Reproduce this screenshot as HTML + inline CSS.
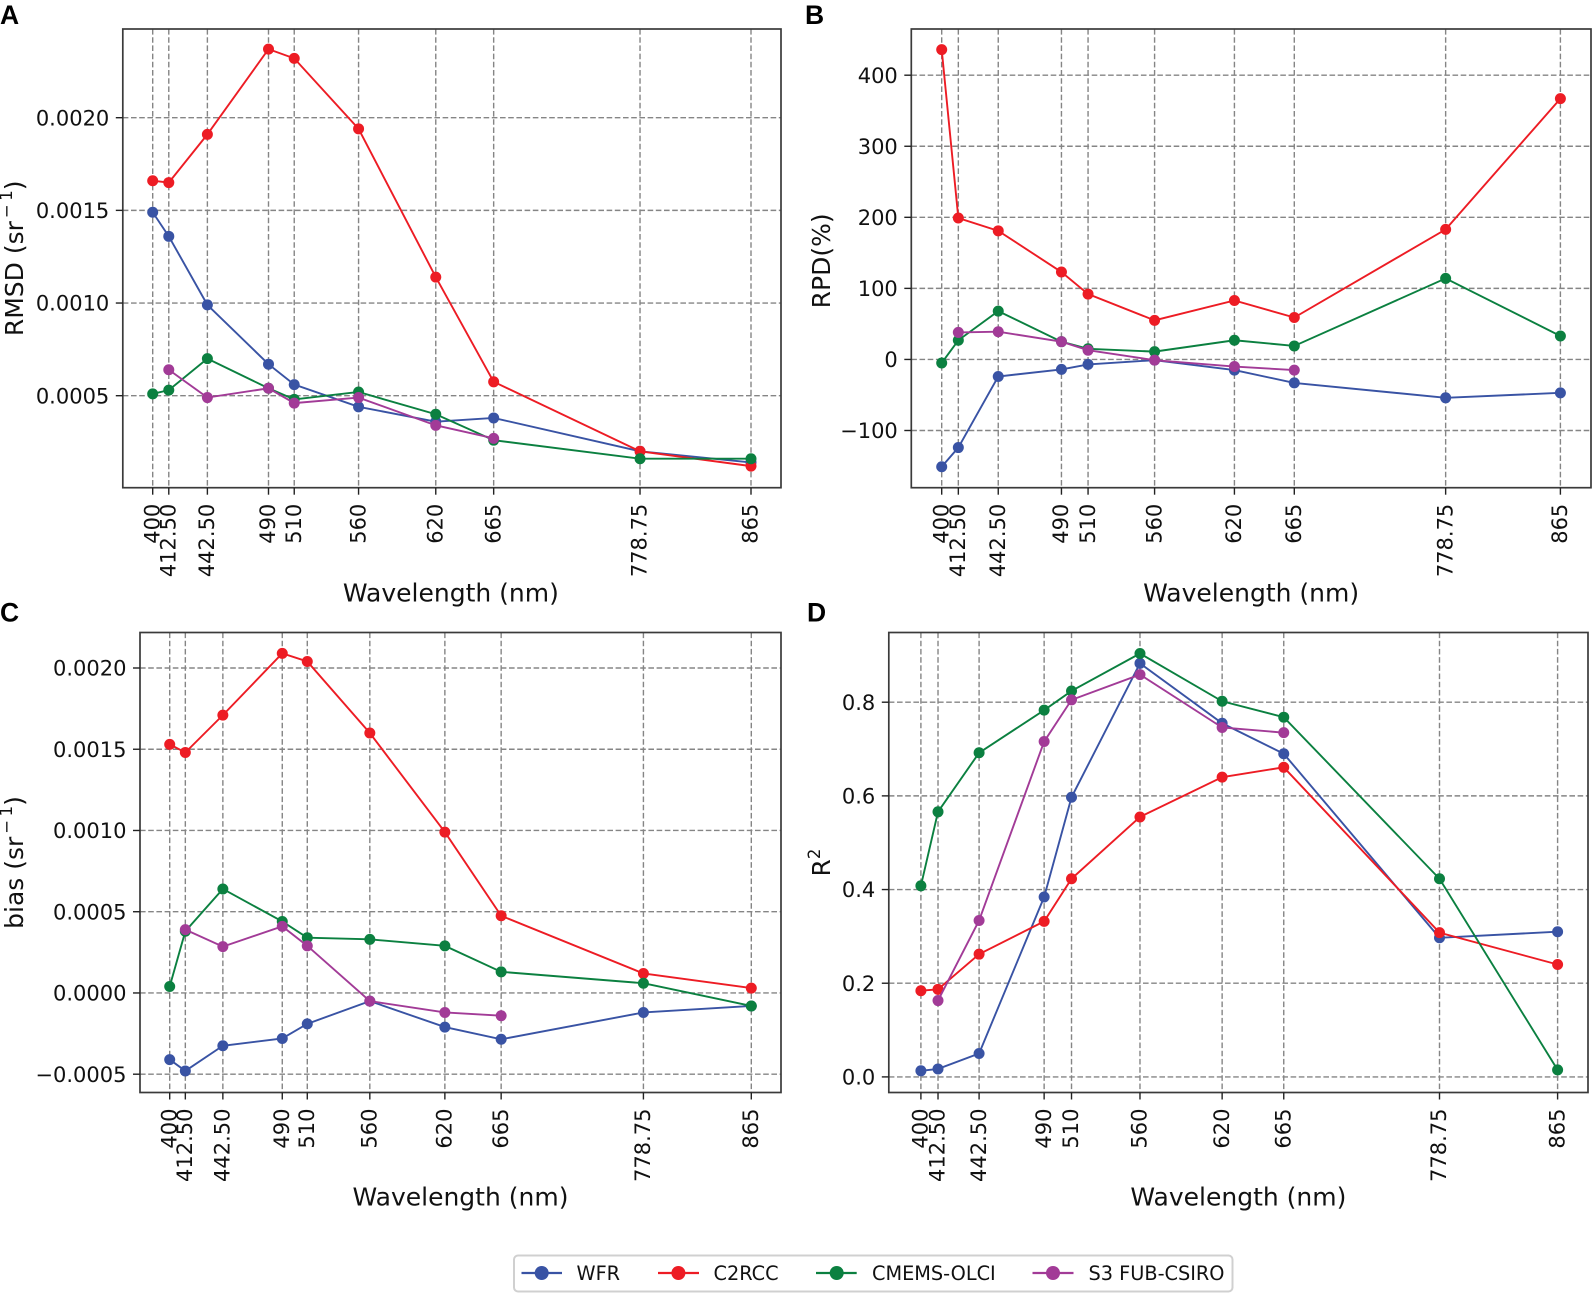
<!DOCTYPE html>
<html lang="en">
<head>
<meta charset="utf-8">
<title>Sentinel-3 atmospheric correction comparison</title>
<style>
html,body{margin:0;padding:0;background:#fff;width:1592px;height:1293px;overflow:hidden}
svg{display:block;font-family:"DejaVu Sans","Liberation Sans",sans-serif}
</style>
</head>
<body>
<svg id="fig" xmlns="http://www.w3.org/2000/svg" width="1592" height="1293" viewBox="0 0 1592 1293">
  <g>
    <rect x="514" y="1255.5" width="718.5" height="36" rx="4" fill="#fff" stroke="#d0d0d0" stroke-width="2"/>
    <g>
      <line x1="521.5" x2="562" y1="1273" y2="1273" stroke="#3953a4" stroke-width="2.2"/><circle cx="541.7" cy="1273" r="7" fill="#3953a4"/>
      <text x="576.5" y="1280" font-size="19.3" fill="#111">WFR</text>
    </g>
    <g>
      <line x1="658" x2="699" y1="1273" y2="1273" stroke="#ed1c24" stroke-width="2.2"/><circle cx="678.4" cy="1273" r="7" fill="#ed1c24"/>
      <text x="713.5" y="1280" font-size="19.3" fill="#111">C2RCC</text>
    </g>
    <g>
      <line x1="816" x2="856.7" y1="1273" y2="1273" stroke="#0b8040" stroke-width="2.2"/><circle cx="836.7" cy="1273" r="7" fill="#0b8040"/>
      <text x="872" y="1280" font-size="19.3" fill="#111">CMEMS-OLCI</text>
    </g>
    <g>
      <line x1="1032.5" x2="1073.5" y1="1273" y2="1273" stroke="#a23b97" stroke-width="2.2"/><circle cx="1053" cy="1273" r="7" fill="#a23b97"/>
      <text x="1088.5" y="1280" font-size="19.3" fill="#111">S3 FUB-CSIRO</text>
    </g>
  </g>
</svg>
<script>
// ---- shared categories ----
const wavelengths = [400, 412.5, 442.5, 490, 510, 560, 620, 665, 778.75, 865];
const wavelengthLabels = ['400', '412.50', '442.50', '490', '510', '560', '620', '665', '778.75', '865'];

// ---- panel A: RMSD ----
const rmsdTicks = [0.0005, 0.0010, 0.0015, 0.0020];
const rmsdTickLabels = ['0.0005', '0.0010', '0.0015', '0.0020'];
const rmsdWfr = [0.00149, 0.00136, 0.00099, 0.00067, 0.00056, 0.00044, 0.00036, 0.00038, 0.00020, 0.00014];
const rmsdC2rcc = [0.00166, 0.00165, 0.00191, 0.00237, 0.00232, 0.00194, 0.00114, 0.000575, 0.00020, 0.00012];
const rmsdCmems = [0.00051, 0.00053, 0.00070, 0.00054, 0.00048, 0.00052, 0.00040, 0.00026, 0.00016, 0.00016];
const rmsdS3 = [null, 0.00064, 0.00049, 0.00054, 0.00046, 0.00049, 0.00034, 0.00027, null, null];

// ---- panel B: RPD ----
const rpdTicks = [-100, 0, 100, 200, 300, 400];
const rpdTickLabels = ['\u2212100', '0', '100', '200', '300', '400'];
const rpdWfr = [-151, -124, -24, -14, -7, -1, -15, -33, -54, -47];
const rpdC2rcc = [436, 199, 181, 123, 92, 55, 83, 59, 183, 367];
const rpdCmems = [-5, 27, 68, 25, 15, 11, 27, 19, 114, 33];
const rpdS3 = [null, 38, 39, 25, 13, -1, -10, -15, null, null];

// ---- panel C: bias ----
const biasTicks = [-0.0005, 0, 0.0005, 0.0010, 0.0015, 0.0020];
const biasTickLabels = ['\u22120.0005', '0.0000', '0.0005', '0.0010', '0.0015', '0.0020'];
const biasWfr = [-0.00041, -0.00048, -0.000325, -0.00028, -0.00019, -0.00005, -0.00021, -0.000285, -0.00012, -0.00008];
const biasC2rcc = [0.00153, 0.00148, 0.00171, 0.00209, 0.00204, 0.00160, 0.00099, 0.000475, 0.00012, 0.00003];
const biasCmems = [0.00004, 0.00038, 0.00064, 0.00044, 0.00034, 0.00033, 0.00029, 0.00013, 0.00006, -0.00008];
const biasS3 = [null, 0.00039, 0.000285, 0.00041, 0.00029, -0.00005, -0.00012, -0.00014, null, null];

// ---- panel D: R2 ----
const r2Ticks = [0, 0.2, 0.4, 0.6, 0.8];
const r2TickLabels = ['0.0', '0.2', '0.4', '0.6', '0.8'];
const r2Wfr = [0.013, 0.017, 0.05, 0.384, 0.597, 0.883, 0.755, 0.69, 0.297, 0.31];
const r2C2rcc = [0.184, 0.187, 0.262, 0.332, 0.423, 0.555, 0.64, 0.661, 0.308, 0.24];
const r2Cmems = [0.408, 0.566, 0.692, 0.783, 0.824, 0.904, 0.802, 0.768, 0.423, 0.015];
const r2S3 = [null, 0.163, 0.334, 0.716, 0.805, 0.859, 0.746, 0.735, null, null];

const seriesNames = ['wfr', 'c2rcc', 'cmems-olci', 's3-fub-csiro'];
const seriesColors = ['#3953a4', '#ed1c24', '#0b8040', '#a23b97'];

const SVGNS = 'http://www.w3.org/2000/svg';
const fig = document.getElementById('fig');

function make(parent, tag, attrs) {
  const el = document.createElementNS(SVGNS, tag);
  for (const k in attrs) el.setAttribute(k, attrs[k]);
  parent.appendChild(el);
  return el;
}

function drawPanel(cfg) {
  const g = make(fig, 'g', {});
  
  

  const xScale = w => cfg.x400 + (w - 400) * (cfg.x865 - cfg.x400) / (865 - 400);
  const yScale = v => cfg.yA + (v - cfg.vA) * (cfg.yB - cfg.yA) / (cfg.vB - cfg.vA);

  // panel letter
  const letter = make(g, 'text', {x: cfg.letterX, y: cfg.letterY, 'font-size': 26.5, 'font-weight': 700, 'font-family': '"Liberation Sans",sans-serif', fill: '#000'});
  
  
  letter.textContent = cfg.letter;

  // grid
  const grid = make(g, 'g', {stroke: '#858585', 'stroke-width': 1.4, 'stroke-dasharray': '5.6 2.6', fill: 'none'});
  
  
  wavelengths.forEach(w => {
    make(grid, 'line', {x1: xScale(w), x2: xScale(w), y1: cfg.top, y2: cfg.bottom});
  });
  cfg.yTicks.forEach(v => {
    make(grid, 'line', {x1: cfg.left, x2: cfg.right, y1: yScale(v), y2: yScale(v)});
  });

  // series
  cfg.series.forEach((vals, i) => {
    const sg = make(g, 'g', {});
    
    
    const pts = [];
    vals.forEach((v, j) => { if (v !== null) pts.push([xScale(wavelengths[j]), yScale(v)]); });
    make(sg, 'polyline', {points: pts.map(p => p.join(',')).join(' '), fill: 'none', stroke: seriesColors[i], 'stroke-width': 1.9});
    pts.forEach(p => {
      const c = make(sg, 'circle', {cx: p[0], cy: p[1], r: 5.5, fill: seriesColors[i]});
      
      
    });
  });

  // frame
  const frame = make(g, 'rect', {x: cfg.left, y: cfg.top, width: cfg.right - cfg.left, height: cfg.bottom - cfg.top, fill: 'none', stroke: '#3a3a3a', 'stroke-width': 1.7});
  
  

  // x ticks
  const xAxis = make(g, 'g', {});
  
  
  wavelengths.forEach((w, i) => {
    const x = xScale(w);
    make(xAxis, 'line', {x1: x, x2: x, y1: cfg.bottom, y2: cfg.bottom + 7, stroke: '#222', 'stroke-width': 1.4});
    const t = make(xAxis, 'text', {transform: 'translate(' + (x + 6.7) + ',' + (cfg.bottom + 16) + ') rotate(-90)', 'text-anchor': 'end', 'font-size': 21, fill: '#111'});
    
    
    t.textContent = wavelengthLabels[i];
  });

  const xTitle = make(g, 'text', {x: (cfg.left + cfg.right) / 2 + cfg.xTitleShift, y: cfg.bottom + cfg.xTitleDrop, 'text-anchor': 'middle', 'font-size': 25, fill: '#111'});
  
  
  xTitle.textContent = 'Wavelength (nm)';

  // y ticks
  const yAxis = make(g, 'g', {});
  
  
  cfg.yTicks.forEach((v, i) => {
    const y = yScale(v);
    make(yAxis, 'line', {x1: cfg.left - 7, x2: cfg.left, y1: y, y2: y, stroke: '#222', 'stroke-width': 1.4});
    const t = make(yAxis, 'text', {x: cfg.left - 13.5, y: y + 7.6, 'text-anchor': 'end', 'font-size': 21, fill: '#111'});
    
    
    t.textContent = cfg.yLabels[i];
  });

  // y title
  const yTitle = make(g, 'text', {transform: 'translate(' + cfg.titleX + ',' + ((cfg.top + cfg.bottom) / 2 + cfg.titleShift) + ') rotate(-90)', 'text-anchor': 'middle', 'font-size': 25, fill: '#111'});
  
  
  cfg.title.forEach(part => {
    const s = make(yTitle, 'tspan', part.attrs || {});
    s.textContent = part.t;
  });
}

const inverseSrTitle = prefix => [
  {t: prefix + ' (sr'},
  {t: '\u2212', attrs: {'font-size': 16.5, dy: -11, dx: 3}},
  {t: '1', attrs: {'font-size': 16.5, dx: 3.5}},
  {t: ')', attrs: {dy: 11}}
];

drawPanel({
  id: 'a-rmsd', letter: 'A', letterX: 0, letterY: 24,
  left: 122.8, right: 781, top: 29, bottom: 487.7,
  x400: 152.7, x865: 751,
  vA: 0.0020, yA: 117.7, vB: 0.0005, yB: 395.7,
  yTicks: rmsdTicks, yLabels: rmsdTickLabels,
  series: [rmsdWfr, rmsdC2rcc, rmsdCmems, rmsdS3],
  titleX: 23, titleShift: 0, xTitleShift: -1, xTitleDrop: 114,
  title: inverseSrTitle('RMSD')
});
drawPanel({
  id: 'b-rpd', letter: 'B', letterX: 805, letterY: 24,
  left: 911.3, right: 1591, top: 29, bottom: 487.7,
  x400: 941.7, x865: 1560.4,
  vA: 400, yA: 75.2, vB: -100, yB: 430.5,
  yTicks: rpdTicks, yLabels: rpdTickLabels,
  series: [rpdWfr, rpdC2rcc, rpdCmems, rpdS3],
  titleX: 830, titleShift: 2.5, xTitleShift: 0, xTitleDrop: 114,
  title: [{t: 'RPD(%)'}]
});
drawPanel({
  id: 'c-bias', letter: 'C', letterX: 0, letterY: 621.5,
  left: 140, right: 781, top: 632.5, bottom: 1092.5,
  x400: 169.7, x865: 751.3,
  vA: 0.0020, yA: 668, vB: -0.0005, yB: 1074.2,
  yTicks: biasTicks, yLabels: biasTickLabels,
  series: [biasWfr, biasC2rcc, biasCmems, biasS3],
  titleX: 23, titleShift: 0, xTitleShift: 0, xTitleDrop: 113,
  title: inverseSrTitle('bias')
});
drawPanel({
  id: 'd-r2', letter: 'D', letterX: 807, letterY: 621.5,
  left: 888.8, right: 1588, top: 632.5, bottom: 1092.5,
  x400: 920.9, x865: 1557.6,
  vA: 0.8, yA: 702.2, vB: 0, yB: 1076.9,
  yTicks: r2Ticks, yLabels: r2TickLabels,
  series: [r2Wfr, r2C2rcc, r2Cmems, r2S3],
  titleX: 830, titleShift: 0, xTitleShift: 0, xTitleDrop: 113,
  title: [{t: 'R'}, {t: '2', attrs: {'font-size': 16.5, dy: -10}}]
});
</script>
</body>
</html>
